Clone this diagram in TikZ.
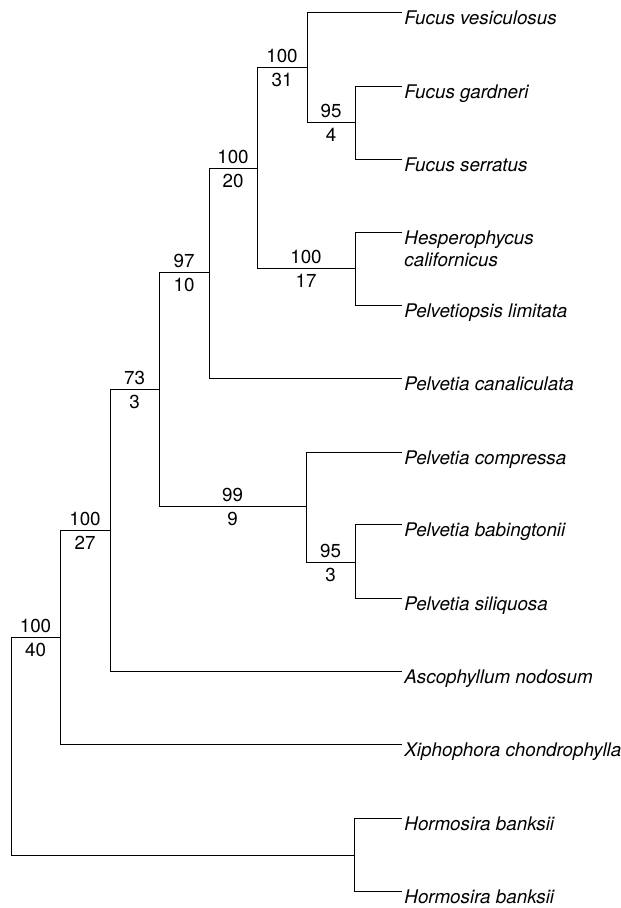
\documentclass[tikz,border=0pt]{standalone}
\usepackage{fontspec}
\setmainfont{TeX Gyre Heros}
\usetikzlibrary{calc}
\newcommand{\bsv}[4]{\path (#1 |- #2) -- (#2) node[midway,above=4pt,supp] {#3} node[midway,below=5.5pt,supp] {#4};}

\begin{document}
\begin{tikzpicture}[x=1pt,y=-1pt,line width=0.9pt,
  taxon/.style={anchor=north west,inner sep=0pt,align=left,font=\fontsize{18.8}{22}\selectfont\itshape},
  supp/.style={inner sep=0pt,font=\fontsize{18.8}{22}\selectfont}]
\useasboundingbox (0,0) rectangle (621,908);
% tips
\foreach \n/\y/\lab in {fv/12/Fucus vesiculosus,fg/86/Fucus gardneri,fs/159/Fucus serratus,
  hc/232/{Hesperophycus\\californicus},pl/305/Pelvetiopsis limitata,pca/378/Pelvetia canaliculata,
  pco/452/Pelvetia compressa,pb/524/Pelvetia babingtonii,psi/598/Pelvetia siliquosa,
  an/671/Ascophyllum nodosum,xc/744/Xiphophora chondrophylla,hb1/818/Hormosira banksii,
  hb2/891/Hormosira banksii}{
  \coordinate (\n) at (402,\y);
  \node[taxon] (\n-t) at (404,\y-2) {\lab};}
% internal nodes
\coordinate (A) at (307,67);
\coordinate (B) at (355,122);
\coordinate (C) at (257,168);
\coordinate (D) at (355,268);
\coordinate (E) at (209,272);
\coordinate (F) at (159,389);
\coordinate (G) at (306,506);
\coordinate (H) at (355,562);
\coordinate (I) at (110,530);
\coordinate (J) at (60,637);
\coordinate (K) at (354,855);
\coordinate (root) at (11,746);
\foreach \p/\c in {A/fv,A/B,B/fg,B/fs,C/A,C/D,D/hc,D/pl,E/C,E/pca,F/E,F/G,G/pco,G/H,
  H/pb,H/psi,I/F,I/an,J/I,J/xc,root/J,root/K,K/hb1,K/hb2}
  \draw (\p) |- (\c);
% bootstrap / decay
\bsv{C}{A}{100}{31}
\bsv{A}{B}{95}{4}
\bsv{E}{C}{100}{20}
\bsv{C}{D}{100}{17}
\bsv{F}{E}{97}{10}
\bsv{I}{F}{73}{3}
\bsv{F}{G}{99}{9}
\bsv{G}{H}{95}{3}
\bsv{J}{I}{100}{27}
\bsv{root}{J}{100}{40}
\end{tikzpicture}
\end{document}
